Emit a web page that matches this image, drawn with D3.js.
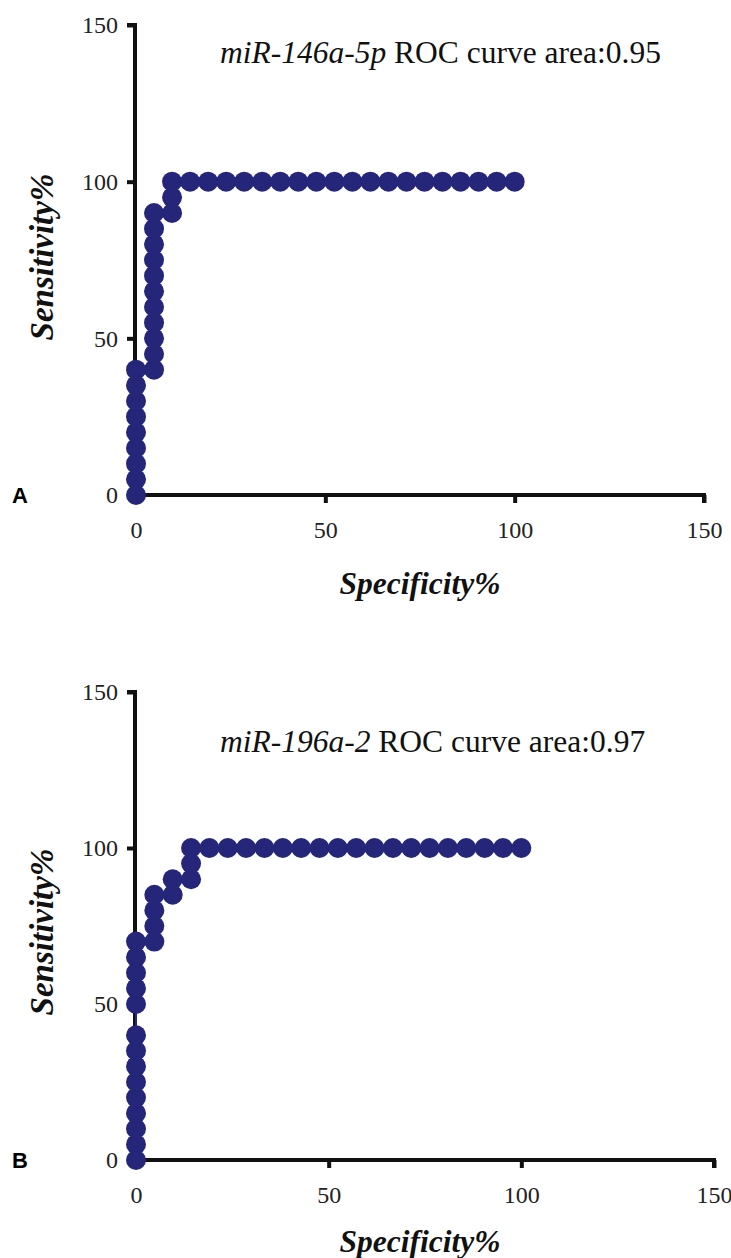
<!DOCTYPE html>
<html>
<head>
<meta charset="utf-8">
<script src="https://cdn.jsdelivr.net/npm/d3@7"></script>
<style>
  body { margin: 0; background: #fff; }
  text { font-family: "Liberation Serif", "Times New Roman", serif; }
</style>
</head>
<body>
<div id="chart"></div>
<script>
// ROC points, panel A (miR-146a-5p)
const xA = [0, 0, 0, 0, 0, 0, 0, 0, 0,
  4.76, 4.76, 4.76, 4.76, 4.76, 4.76, 4.76, 4.76, 4.76, 4.76, 4.76,
  9.52, 9.52, 9.52,
  14.29, 19.05, 23.81, 28.57, 33.33, 38.1, 42.86, 47.62, 52.38, 57.14,
  61.9, 66.67, 71.43, 76.19, 80.95, 85.71, 90.48, 95.24, 100];
const yA = [0, 5, 10, 15, 20, 25, 30, 35, 40,
  40, 45, 50, 55, 60, 65, 70, 75, 80, 85, 90,
  90, 95, 100,
  100, 100, 100, 100, 100, 100, 100, 100, 100, 100,
  100, 100, 100, 100, 100, 100, 100, 100, 100];

// ROC points, panel B (miR-196a-2)
const xB = [0, 0, 0, 0, 0, 0, 0, 0, 0, 0, 0, 0, 0, 0,
  4.76, 4.76, 4.76, 4.76,
  9.52, 9.52,
  14.29, 14.29, 14.29,
  19.05, 23.81, 28.57, 33.33, 38.1, 42.86, 47.62, 52.38, 57.14,
  61.9, 66.67, 71.43, 76.19, 80.95, 85.71, 90.48, 95.24, 100];
const yB = [0, 5, 10, 15, 20, 25, 30, 35, 40, 50, 55, 60, 65, 70,
  70, 75, 80, 85,
  85, 90,
  90, 95, 100,
  100, 100, 100, 100, 100, 100, 100, 100, 100,
  100, 100, 100, 100, 100, 100, 100, 100, 100];

const tickValues = [0, 50, 100, 150];
const tags = ['A', 'B'];
const genes = ['miR-146a-5p', 'miR-196a-2'];
const areas = ['0.95', '0.97'];

const panels = [
  { xs: xA, ys: yA },
  { xs: xB, ys: yB },
];

// page position of each panel
const layout = [
  { x0: 136, x1: 704, y0: 495, y1: 25, title: 63, xLab: 594, yLab: 257 },
  { x0: 136, x1: 714, y0: 1160, y1: 692, title: 752, xLab: 1252, yLab: 932 },
];

const dotColor = '#25257a';

const svg = d3
  .select('#chart')
  .append('svg')
  .attr('width', 731)
  .attr('height', 1258);

panels.forEach((p, i) => {
  const L = layout[i];
  const g = svg.append('g');

  const x = d3.scaleLinear().domain([0, 150]).range([L.x0, L.x1]);
  const y = d3.scaleLinear().domain([0, 150]).range([L.y0, L.y1]);

  // Axes
  const xAxis = d3.axisBottom(x).tickValues(tickValues).tickSize(8).tickPadding(18);
  const yAxis = d3.axisLeft(y).tickValues(tickValues).tickSize(8).tickPadding(9);

  const gx = g.append('g').attr('transform', `translate(0,${L.y0})`).call(xAxis);
  const gy = g.append('g').attr('transform', `translate(${L.x0 - 1},0)`).call(yAxis);

  [gx, gy].forEach((a) => {
    a.select('.domain').attr('stroke', '#111').attr('stroke-width', 4);
    a.selectAll('.tick line').attr('stroke', '#111').attr('stroke-width', 4);
    a.selectAll('.tick text')
      .style('font-family', '"Liberation Serif", serif')
      .style('font-size', '24px')
      .attr('fill', '#222');
  });
  gx.select('.domain').attr('d', `M${L.x0 - 2},8V0H${L.x1}V8`);
  gy.select('.domain').attr('d', `M-8,${L.y1}H0V${L.y0 + 2}`);

  // ROC line and points
  const pts = p.xs.map((v, k) => [v, p.ys[k]]);
  const line = d3.line().x((d) => x(d[0])).y((d) => y(d[1]));
  g.append('path')
    .datum(pts)
    .attr('d', line)
    .attr('fill', 'none')
    .attr('stroke', dotColor)
    .attr('stroke-width', 2);

  g.selectAll('.dot')
    .data(pts)
    .enter()
    .append('circle')
    .attr('class', 'dot')
    .attr('cx', (d) => x(d[0]))
    .attr('cy', (d) => y(d[1]))
    .attr('r', 10)
    .attr('fill', dotColor);

  // Title inside plot
  const t = g.append('text')
    .attr('x', 220)
    .attr('y', L.title)
    .style('font-size', '31.5px')
    .attr('fill', '#111');
  t.append('tspan').style('font-style', 'italic').text(genes[i]);
  t.append('tspan').text(' ROC curve area:' + areas[i]);

  // Axis labels
  g.append('text')
    .attr('x', 420)
    .attr('y', L.xLab)
    .attr('text-anchor', 'middle')
    .style('font-size', '31.5px')
    .style('font-weight', 'bold')
    .style('font-style', 'italic')
    .attr('fill', '#111')
    .text('Specificity%');

  g.append('text')
    .attr('transform', `translate(53,${L.yLab}) rotate(-90)`)
    .attr('text-anchor', 'middle')
    .style('font-size', '33px')
    .style('font-weight', 'bold')
    .style('font-style', 'italic')
    .attr('fill', '#111')
    .text('Sensitivity%');

  // Panel letter
  g.append('text')
    .attr('x', 12)
    .attr('y', L.y0 + 8)
    .style('font-family', '"Liberation Sans", Arial, sans-serif')
    .style('font-size', '22px')
    .style('font-weight', 'bold')
    .attr('fill', '#000')
    .text(tags[i]);
});
</script>
</body>
</html>
